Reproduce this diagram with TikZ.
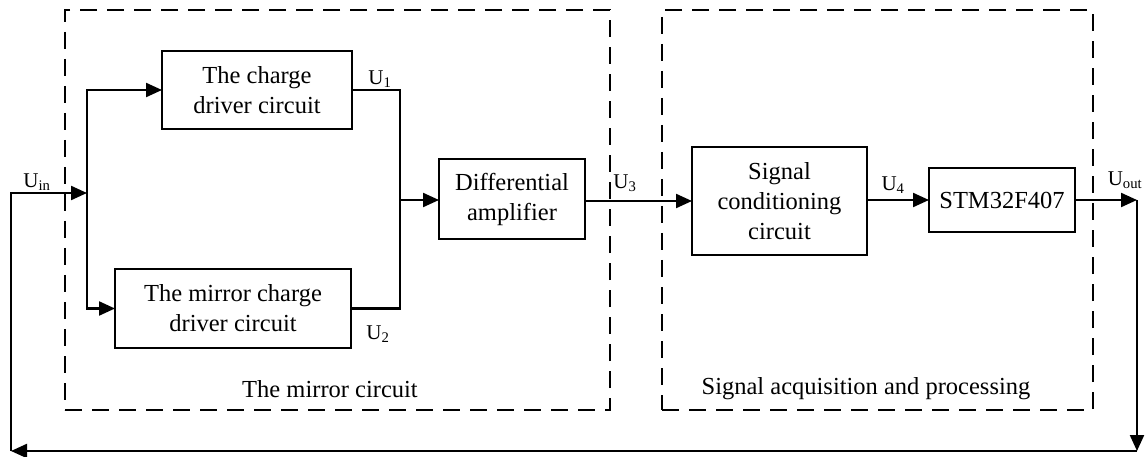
\documentclass[tikz,border=0pt]{standalone}
\usepackage{fontspec}
\setmainfont{Liberation Serif}
\usetikzlibrary{arrows.meta}
\begin{document}
\begin{tikzpicture}[x=1pt,y=-1pt,
  every node/.style={inner sep=0pt, outer sep=0pt},
  block/.style={draw, line width=2.2pt, align=center,
    font=\fontsize{24.5}{30}\selectfont},
  group/.style={draw, line width=2.6pt, dash pattern=on 17pt off 10pt},
  grouplabel/.style={font=\fontsize{24.5}{30}\selectfont},
  sig/.style={font=\fontsize{21}{24}\selectfont},
  wire/.style={line width=2.2pt},
  flow/.style={wire, -{Triangle[length=16pt,width=14pt]}}]
\useasboundingbox (0,0) rectangle (1146,457);

% dashed group frames
\node[group, minimum width=545pt, minimum height=400pt] (mirrorgrp) at (337.5,210) {};
\node[group, minimum width=431pt, minimum height=400pt] (acqgrp) at (877.5,210) {};
\node[grouplabel] (mirrorlbl) at (330,389) {The mirror circuit};
\node[grouplabel] (acqlbl) at (866,389) {Signal acquisition and processing};

% blocks
\node[block, minimum width=190pt, minimum height=78pt] (charge) at (257,90) {The charge\\driver circuit};
\node[block, minimum width=236pt, minimum height=79pt] (mirror) at (233,308.5) {The mirror charge\\driver circuit};
\node[block, minimum width=146pt, minimum height=80pt] (diff) at (512,199) {Differential\\amplifier};
\node[block, minimum width=175pt, minimum height=108pt] (cond) at (779.5,201) {Signal\\conditioning\\circuit};
\node[block, minimum width=146pt, minimum height=64pt] (mcu) at (1002,200) {STM32F407};

% routing points
\coordinate (jin) at (87,193);
\coordinate (jout) at (400,200);
\coordinate (outcorner) at (1137,200);
\coordinate (botright) at (1137,451);
\coordinate (botleft) at (11,451);
\coordinate (inleft) at (11,193);

% input split
\draw[flow] (botleft) -- (inleft) -- (jin);
\draw[flow] (jin) |- (charge.west);
\draw[flow] (jin) |- (mirror.west);

% merge into the differential amplifier
\draw[wire] (charge.east) -| (jout);
\draw[wire] (mirror.east) -| (jout);
\draw[flow] (jout) -- (diff.west |- jout);

% signal chain
\draw[flow] (diff.east |- cond.west) -- (cond.west);
\draw[flow] (cond.east |- mcu.west) -- (mcu.west);
\draw[flow] (mcu.east) -- (outcorner);

% feedback loop
\draw[flow] (outcorner) -- (botright);
\draw[flow] (botright) -- (botleft);

% signal labels
\node[sig] (uin) at (37,182) {U\textsubscript{in}};
\node[sig] (u1) at (380,79) {U\textsubscript{1}};
\node[sig] (u2) at (378,334) {U\textsubscript{2}};
\node[sig] (u3) at (625,183) {U\textsubscript{3}};
\node[sig] (u4) at (893,185) {U\textsubscript{4}};
\node[sig] (uout) at (1125,180) {U\textsubscript{out}};
\end{tikzpicture}
\end{document}
